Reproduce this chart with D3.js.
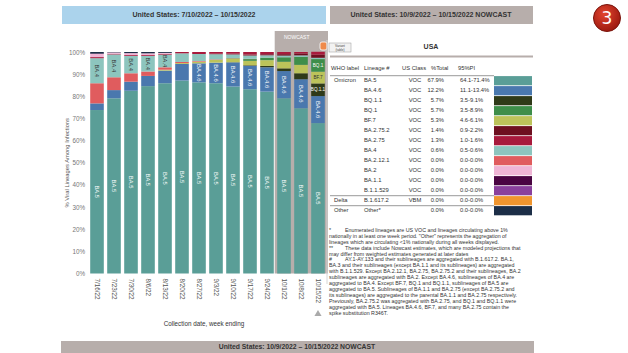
<!DOCTYPE html>
<html>
<head>
<meta charset="utf-8">
<script src="https://cdn.jsdelivr.net/npm/d3@7"></script>
<style>
  body { margin: 0; background: #fff; }
  svg { font-family: "Liberation Sans", Arial, sans-serif; }
</style>
</head>
<body>
<div id="chart"></div>
<script>
// ---- data ----
let weeks = ["7/16/22","7/23/22","7/30/22","8/6/22","8/13/22","8/20/22","8/27/22",
             "9/3/22","9/10/22","9/17/22","9/24/22","10/1/22","10/8/22","10/15/22"];

let ba5      = [73.8, 79.1, 82.5, 84.6, 85.9, 87.1, 86.3, 85.9, 84.4, 83.2, 82.1, 79.1, 74.6, 67.9];
let ba46     = [3.0, 3.7, 4.1, 4.6, 5.7, 7.5, 8.6, 9.3, 10.9, 10.5, 11.0, 12.3, 13.1, 12.2];
let bq11     = [0, 0, 0, 0, 0, 0, 0, 0, 0.1, 0.3, 0.6, 1.2, 2.7, 5.7];
let bf7      = [0, 0, 0, 0, 0.4, 0.4, 0.7, 1.2, 1.6, 2.0, 2.6, 3.0, 3.8, 5.3];
let bq1      = [0, 0, 0, 0, 0, 0, 0, 0.1, 0.2, 0.8, 1.2, 2.0, 3.6, 5.7];
let ba2121   = [9.1, 5.8, 3.8, 2.0, 1.1, 0.5, 0.3, 0.2, 0.1, 0.1, 0, 0, 0, 0];
let ba4      = [11.3, 10.3, 7.8, 7.0, 5.7, 3.9, 3.2, 2.3, 1.6, 1.5, 1.0, 0.8, 0.7, 0.6];
let ba2752   = [0, 0, 0, 0, 0, 0, 0, 0.2, 0.3, 0.5, 0.5, 0.6, 0.8, 1.4];
let ba275    = [0.5, 0.3, 0.4, 0.4, 0.4, 0.6, 0.9, 0.8, 0.8, 1.1, 1.0, 1.0, 0.7, 1.3];
let ba2      = [1.4, 0.6, 0.9, 0.8, 0.4, 0, 0, 0, 0, 0, 0, 0, 0, 0];
let ba11     = [0.2, 0, 0, 0, 0, 0, 0, 0, 0, 0, 0, 0, 0, 0];
let b11529   = [0, 0, 0, 0, 0, 0, 0, 0, 0, 0, 0, 0, 0, 0];
let delta    = [0, 0, 0, 0, 0, 0, 0, 0, 0, 0, 0, 0, 0, 0];
let other    = [0.7, 0.2, 0.5, 0.6, 0.4, 0, 0, 0, 0, 0, 0, 0, 0, 0];

// table (nowcast week)
let whoLabel   = ["Omicron","","","","","","","","","","","","Delta","Other"];
let lineageIds = ["BA.5","BA.4.6","BQ.1.1","BQ.1","BF.7","BA.2.75.2","BA.2.75","BA.4",
                  "BA.2.12.1","BA.2","BA.1.1","B.1.1.529","B.1.617.2","Other*"];
let usClass    = ["VOC","VOC","VOC","VOC","VOC","VOC","VOC","VOC","VOC","VOC","VOC","VOC","VBM",""];
let pctTotal   = ["67.9%","12.2%","5.7%","5.7%","5.3%","1.4%","1.3%","0.6%","0.0%","0.0%","0.0%","0.0%","0.0%","0.0%"];
let pi95       = ["64.1-71.4%","11.1-13.4%","3.5-9.1%","3.5-8.9%","4.6-6.1%","0.9-2.2%","1.0-1.6%","0.5-0.6%",
                  "0.0-0.0%","0.0-0.0%","0.0-0.0%","0.0-0.0%","0.0-0.0%","0.0-0.0%"];
let lineageColors = ["#5a9e97","#4a78ae","#2f3a18","#3e8e4a","#bcc35a","#6e1020","#a81a3c","#8dc5be",
                     "#e05c5e","#efb5d5","#4a0442","#8a409c","#f0952e","#1c2e47"];

let seriesValues = {"BA.5": ba5, "BA.4.6": ba46, "BQ.1.1": bq11, "BF.7": bf7, "BQ.1": bq1,
  "BA.2.12.1": ba2121, "BA.4": ba4, "BA.2.75.2": ba2752, "BA.2.75": ba275, "BA.2": ba2,
  "BA.1.1": ba11, "B.1.1.529": b11529, "B.1.617.2": delta, "Other*": other};

// stacking order, bottom to top
let stackOrder = ["BA.5","BA.4.6","BQ.1.1","BF.7","BQ.1","BA.2.12.1","BA.4","BA.2.75.2","BA.2.75",
                  "BA.2","BA.1.1","B.1.1.529","B.1.617.2","Other*"];

let footnotes = [
  ["*", "Enumerated lineages are US VOC and lineages circulating above 1%"],
  ["", "nationally in at least one week period. \"Other\" represents the aggregation of"],
  ["", "lineages which are circulating <1% nationally during all weeks displayed."],
  ["**", "These data include Nowcast estimates, which are modeled projections that"],
  ["", "may differ from weighted estimates generated at later dates"],
  ["#", "AY.1-AY.133 and their sublineages are aggregated with B.1.617.2. BA.1,"],
  ["", "BA.3 and their sublineages (except BA.1.1 and its sublineages) are aggregated"],
  ["", "with B.1.1.529. Except BA.2.12.1, BA.2.75, BA.2.75.2 and their sublineages, BA.2"],
  ["", "sublineages are aggregated with BA.2. Except BA.4.6, sublineages of BA.4 are"],
  ["", "aggregated to BA.4. Except BF.7, BQ.1 and BQ.1.1, sublineages of BA.5 are"],
  ["", "aggregated to BA.5. Sublineages of BA.1.1 and BA.2.75 (except BA.2.75.2 and"],
  ["", "its sublineages) are aggregated to the parental BA.1.1 and BA.2.75 respectively."],
  ["", "Previously, BA.2.75.2 was aggregated with BA.2.75, and BQ.1 and BQ.1.1 were"],
  ["", "aggregated with BA.5. Lineages BA.4.6, BF.7, and many BA.2.75 contain the"],
  ["", "spike substitution R346T."]
];

// ---- drawing ----
let width = 628, height = 353;
let grey = "#b7aeab";

let svg = d3.select("#chart").append("svg")
  .attr("width", width).attr("height", height);

// banners
svg.append("rect").attr("x", 62).attr("y", 6).attr("width", 264).attr("height", 18).attr("fill", "#abd3ec");
svg.append("text").attr("x", 194).attr("y", 15.5).attr("text-anchor", "middle").attr("dominant-baseline", "middle")
  .attr("font-size", 7).attr("font-weight", "bold").attr("fill", "#333")
  .text("United States: 7/10/2022 \u2013 10/15/2022");
svg.append("rect").attr("x", 330).attr("y", 6).attr("width", 203).attr("height", 18).attr("fill", grey);
svg.append("text").attr("x", 431).attr("y", 15.5).attr("text-anchor", "middle").attr("dominant-baseline", "middle")
  .attr("font-size", 7).attr("font-weight", "bold").attr("fill", "#333")
  .text("United States: 10/9/2022 \u2013 10/15/2022 NOWCAST");

// red number badge
let grad = svg.append("defs").append("radialGradient").attr("id", "badge").attr("cx", "40%").attr("cy", "35%").attr("r", "65%");
grad.append("stop").attr("offset", "0%").attr("stop-color", "#e2452f");
grad.append("stop").attr("offset", "100%").attr("stop-color", "#9e1a10");
svg.append("circle").attr("cx", 607).attr("cy", 18).attr("r", 13.5).attr("fill", "url(#badge)").attr("stroke", "#7a140c").attr("stroke-width", 1);
svg.append("text").attr("x", 607).attr("y", 19).attr("text-anchor", "middle").attr("dominant-baseline", "middle")
  .attr("font-size", 17).attr("fill", "#fff").attr("font-family", "DejaVu Sans").text("3");

// scales
let x = d3.scaleBand().domain(weeks).range([88.5, 326.5]).paddingInner(0.2).paddingOuter(0.1);
let y = d3.scaleLinear().domain([0, 100]).range([273.5, 52]);

// nowcast shading behind last three weeks
let nowX = x(weeks[11]) - 2.5;
svg.append("rect").attr("x", nowX).attr("y", 31).attr("width", 328 - nowX).attr("height", y(0) - 31).attr("fill", grey);
svg.append("text").attr("x", nowX + 22).attr("y", 38).attr("text-anchor", "middle").attr("dominant-baseline", "middle")
  .attr("font-size", 5).attr("fill", "#fff").text("NOWCAST");

// stacked bars
let rows = weeks.map((w, i) => {
  let r = {week: w};
  stackOrder.forEach(k => r[k] = seriesValues[k][i]);
  return r;
});
let stacked = d3.stack().keys(stackOrder)(rows);
let colorScale = d3.scaleOrdinal().domain(lineageIds).range(lineageColors);

let layers = svg.selectAll(".layer").data(stacked).enter()
  .append("g").attr("class", "layer").attr("fill", d => colorScale(d.key));

layers.selectAll("rect").data(d => d).enter().append("rect")
  .attr("x", d => x(d.data.week))
  .attr("y", d => y(d[1]))
  .attr("width", x.bandwidth())
  .attr("height", d => Math.max(0, y(d[0]) - y(d[1])));

// segment labels
let vertLabels = {"BA.5": [10, "#fff"], "BA.4.6": [8, "#fff"], "BA.4": [5, "#333"]};
let horizLabels = {"BQ.1.1": "#fff", "BF.7": "#333", "BQ.1": "#fff"};
stacked.forEach(layer => {
  layer.forEach(d => {
    let v = d[1] - d[0];
    let cx = x(d.data.week) + x.bandwidth() / 2;
    let cy = y((d[0] + d[1]) / 2);
    if (vertLabels[layer.key] && v >= vertLabels[layer.key][0]) {
      svg.append("text").attr("transform", "translate(" + cx + "," + cy + ") rotate(90)")
        .attr("text-anchor", "middle").attr("dominant-baseline", "central")
        .attr("font-size", 5.8).attr("fill", vertLabels[layer.key][1]).text(layer.key);
    }
    if (horizLabels[layer.key] && v >= 5) {
      svg.append("text").attr("x", cx).attr("y", cy)
        .attr("text-anchor", "middle").attr("dominant-baseline", "central")
        .attr("font-size", 4.6).attr("fill", horizLabels[layer.key]).text(layer.key);
    }
  });
});

// little hover marker on top of the last bar
svg.append("rect").attr("x", 320).attr("y", 42).attr("width", 7).attr("height", 8).attr("rx", 2)
  .attr("fill", "#ef8a4a").attr("stroke", "#fff").attr("stroke-width", 0.8);

// axes
let yAxis = d3.axisLeft(y).tickValues(d3.range(0, 101, 10)).tickFormat(d => d + "%").tickSize(0).tickPadding(3);
let yg = svg.append("g").attr("transform", "translate(88,0)").call(yAxis);
yg.select(".domain").remove();
yg.selectAll("text").attr("font-size", 6.3).attr("fill", "#777").attr("font-family", "Liberation Sans, Arial");

let xAxis = d3.axisBottom(x).tickSize(0).tickPadding(0);
let xg = svg.append("g").attr("transform", "translate(0," + y(0) + ")").call(xAxis);
xg.select(".domain").remove();
xg.selectAll("text").attr("font-size", 6.3).attr("fill", "#555").attr("font-family", "Liberation Sans, Arial")
  .attr("text-anchor", "start").attr("dy", 0)
  .attr("transform", "translate(0,5) rotate(90)").attr("dominant-baseline", "central").attr("y", 0).attr("x", 0);

svg.append("text").attr("transform", "translate(67," + y(50) + ") rotate(-90)")
  .attr("text-anchor", "middle").attr("dominant-baseline", "middle")
  .attr("font-size", 5.8).attr("fill", "#555").text("% Viral Lineages Among Infections");
svg.append("text").attr("x", 204).attr("y", 324).attr("text-anchor", "middle").attr("dominant-baseline", "middle")
  .attr("font-size", 6.3).attr("fill", "#333").text("Collection date, week ending");
svg.append("path").attr("d", d3.symbol(d3.symbolTriangle, 22)()).attr("transform", "translate(318,314)").attr("fill", "#aaa");

// ---- table ----
let tfs = 5.8;
svg.append("line").attr("x1", 327).attr("x2", 327).attr("y1", 40).attr("y2", 284).attr("stroke", "#d6d6d6").attr("stroke-width", 1);
svg.append("rect").attr("x", 329).attr("y", 43).attr("width", 22).attr("height", 9).attr("fill", "#f2f2f2").attr("stroke", "#999").attr("stroke-width", 0.5);
svg.append("text").attr("x", 340).attr("y", 46).attr("text-anchor", "middle").attr("dominant-baseline", "middle").attr("font-size", 3.2).attr("fill", "#444").text("Variant");
svg.append("text").attr("x", 340).attr("y", 49.8).attr("text-anchor", "middle").attr("dominant-baseline", "middle").attr("font-size", 3.2).attr("fill", "#444").text("(table)");

svg.append("text").attr("x", 431).attr("y", 47.5).attr("text-anchor", "middle").attr("dominant-baseline", "middle")
  .attr("font-size", 7).attr("font-weight", "bold").attr("fill", "#333").text("USA");
svg.append("line").attr("x1", 330).attr("x2", 533).attr("y1", 56.5).attr("y2", 56.5).attr("stroke", grey).attr("stroke-width", 2);

let headY = 68;
let cols = [
  {label: "WHO label", x: 331},
  {label: "Lineage #", x: 364},
  {label: "US Class", x: 402},
  {label: "%Total", x: 431},
  {label: "95%PI", x: 458}
];
cols.forEach(c => {
  svg.append("text").attr("x", c.x).attr("y", headY).attr("dominant-baseline", "middle")
    .attr("font-size", tfs).attr("fill", "#333").text(c.label);
});
svg.append("line").attr("x1", 330).attr("x2", 494).attr("y1", 75.7).attr("y2", 75.7).attr("stroke", "#555").attr("stroke-width", 0.6);

let rowY = d3.scaleBand().domain(lineageIds).range([75.7, 215.7]);
let tableRows = svg.selectAll(".trow").data(lineageIds).enter().append("g").attr("class", "trow")
  .attr("transform", d => "translate(0," + (rowY(d) + rowY.bandwidth() / 2) + ")")
  .attr("font-size", tfs).attr("fill", "#333");
tableRows.append("text").attr("x", 334).attr("dominant-baseline", "middle").text((d, i) => whoLabel[i]);
tableRows.append("text").attr("x", 364).attr("dominant-baseline", "middle").text(d => d);
tableRows.append("text").attr("x", 415).attr("text-anchor", "middle").attr("dominant-baseline", "middle")
  .text((d, i) => usClass[i]);
tableRows.append("text").attr("x", 444).attr("text-anchor", "end").attr("dominant-baseline", "middle")
  .text((d, i) => pctTotal[i]);
tableRows.append("text").attr("x", 460).attr("dominant-baseline", "middle").text((d, i) => pi95[i]);
tableRows.append("rect").attr("x", 494).attr("y", -rowY.bandwidth() / 2 + 0.4).attr("width", 38).attr("height", rowY.bandwidth() - 0.8)
  .attr("fill", d => colorScale(d));

[rowY("B.1.617.2"), rowY("Other*")].forEach(ly => {
  svg.append("line").attr("x1", 330).attr("x2", 494).attr("y1", ly).attr("y2", ly).attr("stroke", "#555").attr("stroke-width", 0.6);
});

// footnotes
let noteG = svg.append("g").attr("font-size", 5.3).attr("fill", "#333");
footnotes.forEach((f, i) => {
  let ly = 230.5 + i * 5.9;
  if (f[0]) {
    noteG.append("text").attr("x", 329).attr("y", ly).attr("dominant-baseline", "middle").text(f[0]);
    noteG.append("text").attr("x", 345).attr("y", ly).attr("dominant-baseline", "middle").text(f[1]);
  } else {
    noteG.append("text").attr("x", 329).attr("y", ly).attr("dominant-baseline", "middle").text(f[1]);
  }
});

// bottom banner
svg.append("rect").attr("x", 61).attr("y", 341).attr("width", 473).attr("height", 14).attr("fill", grey);
svg.append("text").attr("x", 297).attr("y", 347.5).attr("text-anchor", "middle").attr("dominant-baseline", "middle")
  .attr("font-size", 6.8).attr("font-weight", "bold").attr("fill", "#333")
  .text("United States: 10/9/2022 \u2013 10/15/2022 NOWCAST");
</script>
</body>
</html>
